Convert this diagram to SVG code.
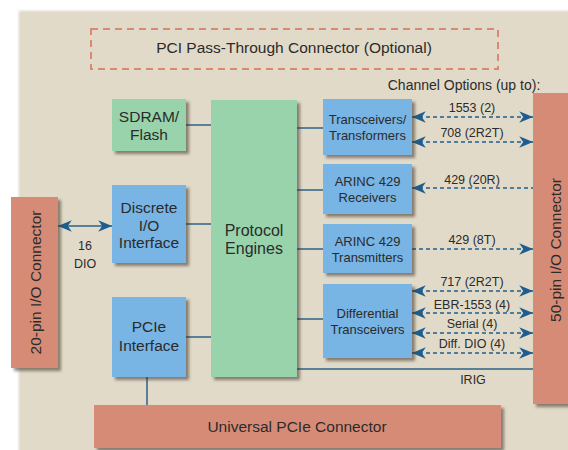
<svg xmlns="http://www.w3.org/2000/svg" width="568" height="450" viewBox="0 0 568 450">
  <defs>
    <style>
      text { font-family: "Liberation Sans", Arial, sans-serif; fill: #2b2b2b; text-anchor: middle; }
      .blue { fill: #78b4e4; }
      .green { fill: #98d3ab; }
      .coral { fill: #d68b77; }
      .box { filter: url(#shadow); }
      .wire { stroke: #2d6288; stroke-width: 1.5; fill: none; }
      .chan { stroke: #1f5f8c; stroke-width: 1.4; stroke-dasharray: 4 3; fill: none; }
      .t13 { font-size: 13px; }
      .t15 { font-size: 15.5px; }
      .t16 { font-size: 16px; }
      .lbl { font-size: 12.5px; }
    </style>
    <filter id="shadow" x="-20%" y="-20%" width="150%" height="150%">
      <feDropShadow dx="3" dy="3" stdDeviation="1.8" flood-color="#3a3328" flood-opacity="0.55"/>
    </filter>
    <filter id="panelShadow" x="-5%" y="-5%" width="110%" height="110%">
      <feDropShadow dx="-1" dy="-1" stdDeviation="1.5" flood-color="#8a8378" flood-opacity="0.35"/>
    </filter>
    <marker id="head" viewBox="0 0 12 10" markerUnits="userSpaceOnUse" markerWidth="14" markerHeight="11.5" refX="12" refY="5" orient="auto-start-reverse">
      <path d="M0,0 L12,5 L0,10 L3.5,5 Z" fill="#1d5e8e"/>
    </marker>
  </defs>

  <!-- board background -->
  <rect x="20" y="12" width="560" height="450" fill="#e2dac8" filter="url(#panelShadow)"/>

  <!-- optional pass-through connector outline -->
  <g id="pci-pass-through">
    <rect x="91" y="29" width="407" height="40" fill="none" stroke="#d98a75" stroke-width="2" stroke-dasharray="7 5"/>
    <text x="294" y="53" class="t15">PCI Pass-Through Connector (Optional)</text>
  </g>

  <text x="464" y="90" style="font-size:14px">Channel Options (up to):</text>

  <!-- connectors -->
  <g id="connectors">
    <!-- internal buses -->
    <line class="wire" x1="186" y1="125" x2="211" y2="125"/>
    <line class="wire" x1="186" y1="224" x2="211" y2="224"/>
    <line class="wire" x1="186" y1="337" x2="211" y2="337"/>
    <line class="wire" x1="297" y1="128" x2="323" y2="128"/>
    <line class="wire" x1="297" y1="190" x2="323" y2="190"/>
    <line class="wire" x1="297" y1="249" x2="323" y2="249"/>
    <line class="wire" x1="297" y1="319" x2="323" y2="319"/>
    <line class="wire" x1="147" y1="377" x2="147" y2="405"/>
    <line class="wire" x1="297" y1="369" x2="533" y2="369"/>
    <text x="473" y="384" class="lbl">IRIG</text>

    <!-- discrete I/O link -->
    <line class="wire" x1="58" y1="226" x2="112" y2="226" marker-start="url(#head)" marker-end="url(#head)"/>
    <text x="85" y="250" class="lbl">16</text>
    <text x="85" y="268" class="lbl">DIO</text>

    <!-- channel options -->
    <line class="chan" x1="412" y1="117" x2="533" y2="117" marker-start="url(#head)" marker-end="url(#head)"/>
    <text x="472" y="112" class="lbl">1553 (2)</text>
    <line class="chan" x1="412" y1="142" x2="533" y2="142" marker-start="url(#head)" marker-end="url(#head)"/>
    <text x="472" y="137" class="lbl">708 (2R2T)</text>
    <line class="chan" x1="412" y1="188" x2="533" y2="188" marker-start="url(#head)"/>
    <text x="472" y="184" class="lbl">429 (20R)</text>
    <line class="chan" x1="412" y1="249" x2="533" y2="249" marker-end="url(#head)"/>
    <text x="472" y="244" class="lbl">429 (8T)</text>
    <line class="chan" x1="412" y1="291" x2="533" y2="291" marker-start="url(#head)" marker-end="url(#head)"/>
    <text x="472" y="286" class="lbl">717 (2R2T)</text>
    <line class="chan" x1="412" y1="313" x2="533" y2="313" marker-start="url(#head)" marker-end="url(#head)"/>
    <text x="472" y="309" class="lbl">EBR-1553 (4)</text>
    <line class="chan" x1="412" y1="333" x2="533" y2="333" marker-start="url(#head)" marker-end="url(#head)"/>
    <text x="472" y="328" class="lbl">Serial (4)</text>
    <line class="chan" x1="412" y1="353" x2="533" y2="353" marker-start="url(#head)" marker-end="url(#head)"/>
    <text x="472" y="348" class="lbl">Diff. DIO (4)</text>
  </g>

  <!-- memory -->
  <g id="sdram-flash">
    <rect class="green box" x="112" y="99" width="74" height="52"/>
    <text x="149" y="122" class="t15">SDRAM/</text>
    <text x="149" y="140" class="t15">Flash</text>
  </g>

  <g id="discrete-io">
    <rect class="blue box" x="112" y="185" width="74" height="78"/>
    <text x="149" y="213" class="t15">Discrete</text>
    <text x="149" y="231" class="t15">I/O</text>
    <text x="149" y="248" class="t15">Interface</text>
  </g>

  <g id="pcie-interface">
    <rect class="blue box" x="112" y="297" width="74" height="80"/>
    <text x="149" y="332" class="t15">PCIe</text>
    <text x="149" y="351" class="t15">Interface</text>
  </g>

  <g id="protocol-engines">
    <rect class="green box" x="211" y="100" width="86" height="277"/>
    <text x="254" y="236" class="t16">Protocol</text>
    <text x="254" y="254" class="t16">Engines</text>
  </g>

  <g id="transceivers-transformers">
    <rect class="blue box" x="323" y="99" width="89" height="56"/>
    <text x="367.5" y="124" class="t13">Transceivers/</text>
    <text x="367.5" y="140" class="t13">Transformers</text>
  </g>

  <g id="arinc-429-receivers">
    <rect class="blue box" x="323" y="164" width="89" height="50"/>
    <text x="367.5" y="186" class="t13">ARINC 429</text>
    <text x="367.5" y="202" class="t13">Receivers</text>
  </g>

  <g id="arinc-429-transmitters">
    <rect class="blue box" x="323" y="224" width="89" height="49"/>
    <text x="367.5" y="246" class="t13">ARINC 429</text>
    <text x="367.5" y="262" class="t13">Transmitters</text>
  </g>

  <g id="differential-transceivers">
    <rect class="blue box" x="323" y="284" width="89" height="74"/>
    <text x="367.5" y="318" class="t13">Differential</text>
    <text x="367.5" y="334" class="t13">Transceivers</text>
  </g>

  <g id="io-20pin">
    <rect class="coral box" x="11" y="197" width="47" height="171"/>
    <text transform="translate(40.5 282.5) rotate(-90)" class="t15">20-pin I/O Connector</text>
  </g>

  <g id="io-50pin">
    <rect class="coral box" x="533" y="93" width="40" height="311"/>
    <text transform="translate(561 250) rotate(-90)" class="t15">50-pin I/O Connector</text>
  </g>

  <g id="universal-pcie">
    <rect class="coral box" x="94" y="405" width="407" height="43"/>
    <text x="297" y="432" class="t15">Universal PCIe Connector</text>
  </g>
</svg>
